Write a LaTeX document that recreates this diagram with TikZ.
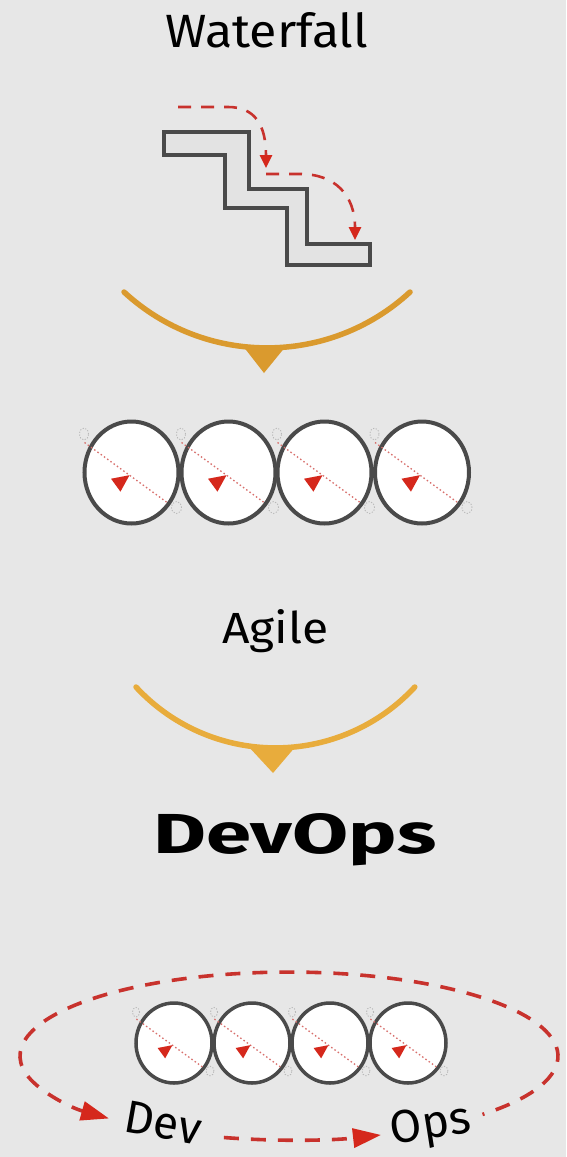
\documentclass[tikz,border=0pt]{standalone}
\usepackage{fontspec}
\usepackage{graphicx}
\setmainfont{Fira Sans}
\usetikzlibrary{arrows.meta,shapes.geometric}

\definecolor{bg}{HTML}{E7E7E7}
\definecolor{ink}{HTML}{4A4A4A}
\definecolor{stepfill}{HTML}{E3E3E3}
\definecolor{dred}{HTML}{C8322D}
\definecolor{tipred}{HTML}{D5281C}
\definecolor{gold1}{HTML}{DA9A2E}
\definecolor{gold2}{HTML}{E8AC3C}

\tikzset{
  stair/.style={draw=ink, fill=stepfill, line width=4.2pt, line join=miter},
  flow/.style={draw=dred, line width=2.6pt, dash pattern=on 13pt off 10pt,
    -{Triangle[length=13pt,width=12pt,color=tipred]}},
  bowl/.style={line width=5.5pt, line cap=round},
  ball/.style={ellipse, draw=ink, fill=white, line width=4pt, inner sep=0pt},
  bigball/.style={ball, minimum width=94pt, minimum height=102pt},
  smallball/.style={ball, line width=3.5pt, minimum width=76pt, minimum height=80pt},
  loopline/.style={draw=dred, line width=3.6pt, dash pattern=on 15pt off 12pt},
  looparrow/.style={loopline, -{Triangle[length=28pt,width=19pt,color=tipred]}},
  label/.style={inner sep=0pt, text=black},
  % dotted diagonal with its arrowhead, drawn inside each ball
  spin/.pic={
    \draw[dred!70, line width=1.3pt, dash pattern=on 1.5pt off 2.5pt]
      (-47,-30) -- (37,31);
    \fill[tipred, shift={(-2,2.7)}, rotate=36]
      (0,0) -- (-17,-8) -- (-17,8) -- cycle;
  },
  % faint dotted marks sitting just outside each ball
  ticks/.pic={
    \draw[gray!55, line width=0.9pt, dash pattern=on 1.2pt off 1.6pt]
      (-47.5,-38.5) ellipse[x radius=4.5pt, y radius=6pt]
      (45,35) ellipse[x radius=5pt, y radius=6pt];
  }
}

\begin{document}
\begin{tikzpicture}[x=1pt, y=-1pt]
\fill[bg] (0,0) rectangle (566,1157);
\useasboundingbox (0,0) rectangle (566,1157);

% ---- Waterfall -------------------------------------------------------
\node[label, anchor=base west] (wf) at (165,47)
  {\resizebox{203pt}{35pt}{Waterfall}};

\draw[stair] (164,132) -- (249,132) -- (249,189) -- (307,189) -- (307,244)
  -- (370,244) -- (370,265) -- (287,265) -- (287,208) -- (225,208)
  -- (225,155) -- (164,155) -- cycle;

\draw[flow] (178,107) -- (228,107) .. controls (255,107) and (266,125) .. (266,168);
\draw[flow] (266,174) -- (300,174) .. controls (335,174) and (355,195) .. (355,240);

% ---- first bowl --------------------------------------------------------
\draw[bowl, gold1] (124,292) arc[start angle=132.7, end angle=47.3, radius=210.9];
\fill[gold1] (243,346) -- (286,346) -- (264,373) -- cycle;

% ---- Agile balls ------------------------------------------------------
\foreach \i/\x in {1/131.5, 2/228.5, 3/324.5, 4/422}{
  \pic at (\x,472.5) {ticks};
}
\foreach \i/\x in {1/131.5, 2/228.5, 3/324.5, 4/422}{
  \node[bigball] (a\i) at (\x,472.5) {};
  \pic at (a\i.center) {spin};
}

\node[label, anchor=base west] (ag) at (222,643)
  {\resizebox{106pt}{34pt}{Agile}};

% ---- second bowl -------------------------------------------------------
\draw[bowl, gold2] (136,687) arc[start angle=137.2, end angle=42.8, radius=190];
\fill[gold2] (248,746) -- (296,746) -- (273,773) -- cycle;

\node[label, anchor=base west] (do) at (153,853)
  {\bfseries\resizebox{283pt}{40pt}{DevOps}};

% ---- DevOps loop -------------------------------------------------------
\foreach \i/\x in {1/174, 2/252, 3/330, 4/408}{
  \pic[scale=0.8] at (\x,1043) {ticks};
}
\foreach \i/\x in {1/174, 2/252, 3/330, 4/408}{
  \node[smallball] (b\i) at (\x,1043) {};
  \pic[scale=0.8] at (b\i.center) {spin};
}

\node[label, rotate=-10] (dev) at (163,1123)
  {\fontsize{46}{46}\selectfont Dev};
\node[label, rotate=9] (ops) at (431,1127)
  {\fontsize{46}{46}\selectfont Ops};

\draw[looparrow, dash phase=13pt] (482.5,1114.4)
  arc[start angle=44, end angle=-228, x radius=269, y radius=84];
\draw[looparrow] (223.9,1137.5)
  arc[start angle=104, end angle=70, x radius=269, y radius=84];
\end{tikzpicture}
\end{document}
